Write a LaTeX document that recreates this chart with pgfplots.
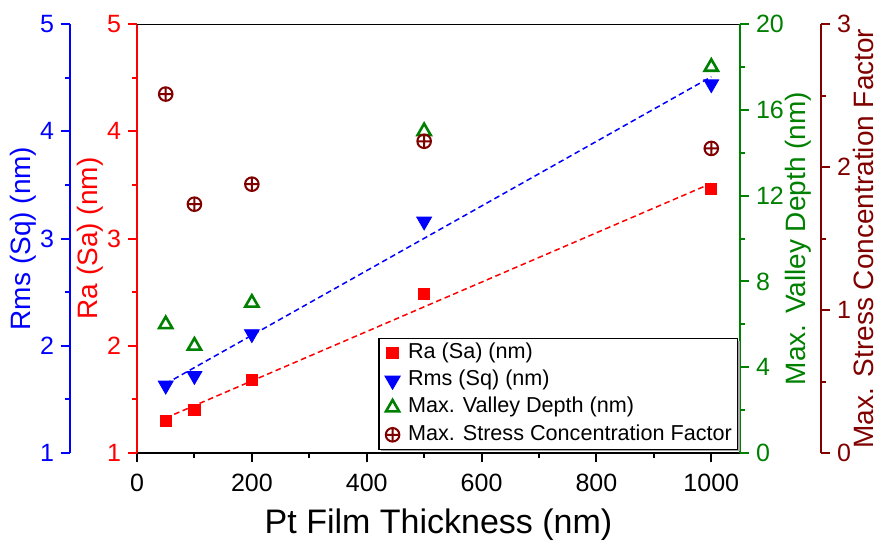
\documentclass[border=0pt]{standalone}
\usepackage{fontspec}
\setmainfont{Liberation Sans}
\usepackage{pgfplots}
\pgfplotsset{compat=1.18}
\usetikzlibrary{shadows}

\definecolor{vgreen}{RGB}{0,128,0}
\definecolor{sdark}{RGB}{128,0,0}

\newcommand{\tickfont}{\fontsize{12.5}{14}\selectfont}
\newcommand{\labelfont}{\fontsize{14}{16}\selectfont}

\pgfplotsset{
  marklegend/.style={legend image code/.code={\path (0pt,0pt) (10.3pt,0pt); \draw[##1] plot coordinates {(4.6pt,0pt)};}},
  ra style/.style={only marks, mark=square*, mark size=2.8pt, color=red, marklegend},
  rms style/.style={only marks, mark=triangle*, mark size=4.3pt, mark options={rotate=180}, color=blue, marklegend},
  vd style/.style={only marks, mark=triangle, mark size=3.8pt, line width=1.3pt, color=vgreen, marklegend},
  scf style/.style={only marks, mark=oplus, mark size=3.4pt, line width=1pt, color=sdark, marklegend},
  fit line/.style={no marks, line width=0.75pt, dash pattern=on 2.8pt off 1.8pt},
  base/.style={
    scale only axis, width=301.5pt, height=214.5pt,
    xmin=0, xmax=1050,
    tick align=outside,
    major tick length=4.5pt, minor tick length=2.4pt,
    /pgf/number format/assume math mode=true,
    /pgf/number format/1000 sep={},
    ticklabel style={font=\tickfont},
  },
}

% Surface roughness and stress data versus Pt film thickness
\pgfplotstableread{
t    ra    rms   vd   scf
50   1.30  1.63  6.0  2.51
100  1.40  1.72  5.0  1.74
200  1.68  2.11  7.0  1.88
500  2.48  3.16  15.0 2.18
1000 3.46  4.44  18.0 2.13
}\roughdata

\begin{document}
\begin{tikzpicture}
% Ra axis (left, red) with the thickness axis
\begin{axis}[base,
  ymin=1, ymax=5,
  axis x line*=bottom, axis y line*=left,
  x axis line style={black, line width=1pt},
  y axis line style={red, line width=1pt},
  xtick={0,200,...,1000}, minor xtick={100,300,...,900},
  ytick={1,...,5}, minor ytick={1.5,2.5,3.5,4.5},
  xtick style={black, line width=1pt},
  ytick style={red, line width=1pt},
  xticklabel style={black, yshift=-2.5pt},
  yticklabel style={red},
  xlabel={Pt Film Thickness (nm)},
  ylabel={Ra (Sa) (nm)},
  every axis x label/.style={at={(axis description cs:0.5,-0.168)}, anchor=center, font=\fontsize{17}{19}\selectfont},
  every axis y label/.style={at={(axis description cs:-0.078,0.5)}, anchor=center, rotate=90, font=\labelfont, text=red},
]
\addplot[fit line, red] coordinates {(50,1.327) (1000,3.514)};
\addplot[fit line, blue] coordinates {(50,1.646) (1000,4.508)};
\addplot[ra style] table[x=t, y=ra] {\roughdata};
\addplot[rms style] table[x=t, y=rms] {\roughdata};
\draw[black, line width=1pt] (rel axis cs:0,1) -- (rel axis cs:1,1);
\coordinate (sw) at (rel axis cs:0,0);
\end{axis}

% Rms axis (offset left, blue), same 1--5 scale as Ra
\begin{axis}[base, xshift=-33.5pt,
  ymin=1, ymax=5,
  hide x axis, axis y line*=left,
  y axis line style={blue, line width=1pt},
  ytick={1,...,5}, minor ytick={1.5,2.5,3.5,4.5},
  ytick style={blue, line width=1pt},
  yticklabel style={blue},
  ylabel={Rms (Sq) (nm)},
  every axis y label/.style={at={(axis description cs:-0.078,0.5)}, anchor=center, rotate=90, font=\labelfont, text=blue},
]
\end{axis}

% Valley depth axis (right, green)
\begin{axis}[base,
  ymin=0, ymax=20,
  hide x axis, axis y line*=right,
  y axis line style={vgreen, line width=1pt},
  ytick={0,4,...,20}, minor ytick={2,6,...,18},
  ytick style={vgreen, line width=1pt},
  yticklabel style={vgreen},
  ylabel={Max. Valley Depth (nm)},
  every axis y label/.style={at={(axis description cs:1.096,0.5)}, anchor=center, rotate=90, font=\labelfont, text=vgreen},
]
\addplot[vd style] table[x=t, y=vd] {\roughdata};
\end{axis}

% Stress concentration factor axis (offset right, dark red)
\begin{axis}[base, xshift=40.5pt,
  ymin=0, ymax=3,
  hide x axis, axis y line*=right,
  y axis line style={sdark, line width=1pt},
  ytick={0,1,2,3}, minor ytick={0.5,1.5,2.5},
  ytick style={sdark, line width=1pt},
  yticklabel style={sdark},
  ylabel={Max. Stress Concentration Factor},
  every axis y label/.style={at={(axis description cs:1.071,0.5)}, anchor=center, rotate=90, font=\labelfont, text=sdark},
]
\end{axis}

% Stress data and the common legend
\begin{axis}[base,
  ymin=0, ymax=3,
  hide axis,
  legend cell align=left,
  legend style={at={(0.997,0.007)}, anchor=south east,
    font=\fontsize{10.8}{12}\selectfont,
    draw=black, line width=0.6pt, fill=white,
    inner xsep=1.5pt, inner ysep=0.5pt,
    nodes={inner sep=1.4pt, text height=8pt, text depth=2.8pt},
    drop shadow={shadow xshift=1pt, shadow yshift=-1pt, fill=gray!70, opacity=1}},
]
\addlegendimage{ra style}
\addlegendimage{rms style}
\addlegendimage{vd style}
\addplot[scf style] table[x=t, y=scf] {\roughdata};
\legend{Ra (Sa) (nm), Rms (Sq) (nm), Max. Valley Depth (nm), Max. Stress Concentration Factor}
\end{axis}

\pgfresetboundingbox
\path (sw) ++(-68.5pt,-50pt) rectangle ++(440.5pt,276.5pt);
\end{tikzpicture}
\end{document}
